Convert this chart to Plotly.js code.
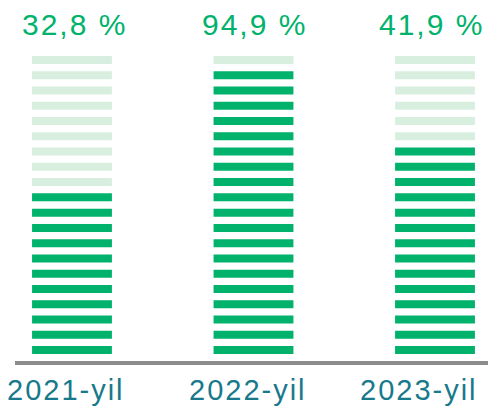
<!DOCTYPE html>
<html>
<head>
<meta charset="utf-8">
<script src="https://cdn.plot.ly/plotly-3.0.1.min.js"></script>
<style>
    html, body { margin: 0; padding: 0; background: #fff; }
    #chart { width: 489px; height: 410px; }
    .annotation-text { letter-spacing: 2px; }
</style>
</head>
<body>
<div id="chart"></div>
<script>
// chart data
const years = ['2021-yil', '2022-yil', '2023-yil'];
const percentLabels = ['32,8 %', '94,9 %', '41,9 %'];
const filledStripes = [11, 19, 14];
const totalStripes = 20;

const darkGreen = '#00b26c';
const lightGreen = '#d8efe0';
const tealText = '#17798b';
const stripeHeight = 0.524;

// one overlay trace per stripe level
const traces = [];
for (let i = 0; i < totalStripes; i++) {
    traces.push({
        type: 'bar',
        x: years,
        y: years.map(() => stripeHeight),
        base: years.map(() => i),
        width: 0.44,
        marker: { color: filledStripes.map(n => (i < n ? darkGreen : lightGreen)) },
        hoverinfo: 'skip',
        showlegend: false
    });
}

const topShift = [3, 1, -4];
const bottomShift = [-6, -6, -16];

const annotations = [];
years.forEach((yr, k) => {
    annotations.push({
        x: yr, xref: 'x', y: 1, yref: 'paper',
        yanchor: 'middle', yshift: 22, xshift: topShift[k],
        text: percentLabels[k], showarrow: false,
        font: { family: 'Liberation Sans, Arial, sans-serif', size: 30, color: darkGreen }
    });
    annotations.push({
        x: yr, xref: 'x', y: 0, yref: 'paper',
        yanchor: 'middle', yshift: -29, xshift: bottomShift[k],
        text: yr, showarrow: false,
        font: { family: 'Liberation Sans, Arial, sans-serif', size: 29, color: tealText }
    });
});

const layout = {
    width: 489,
    height: 410,
    margin: { l: 15, r: 1, t: 46, b: 49 },
    paper_bgcolor: '#fff',
    plot_bgcolor: '#fff',
    barmode: 'overlay',
    xaxis: {
        type: 'category',
        range: [-0.314, 2.292],
        showline: true,
        linewidth: 4,
        linecolor: '#8c8c8c',
        showgrid: false,
        zeroline: false,
        ticks: '',
        showticklabels: false,
        fixedrange: true
    },
    yaxis: {
        range: [-0.459, 20.18],
        visible: false,
        fixedrange: true
    },
    annotations: annotations
};

Plotly.newPlot('chart', traces, layout, { displayModeBar: false, staticPlot: true });
</script>
</body>
</html>
